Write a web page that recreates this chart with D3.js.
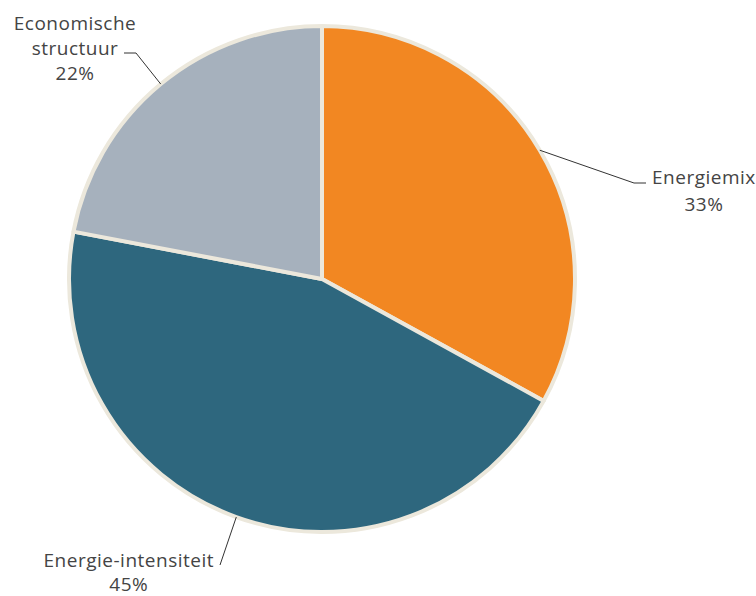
<!DOCTYPE html>
<html>
<head>
<meta charset="utf-8">
<script src="https://cdn.jsdelivr.net/npm/d3@7"></script>
<style>
  html, body { margin: 0; padding: 0; background: #fff; }
  svg { display: block; }
</style>
</head>
<body>
<div id="chart"></div>
<script>
// data
const categories = ['Energiemix', 'Energie-intensiteit', 'Economische structuur'];
const values = [33, 45, 22];
const labelLines = [['Energiemix'], ['Energie-intensiteit'], ['Economische', 'structuur']];
const colors = ['#f28722', '#2e677e', '#a6b1bd'];

const W = 756, H = 596;
const cx = 322, cy = 279, R = 253;

const svg = d3.select('#chart').append('svg')
  .attr('width', W).attr('height', H)
  .attr('viewBox', `0 0 ${W} ${H}`);

const g = svg.append('g').attr('transform', `translate(${cx},${cy})`);

const pie = d3.pie().value(d => d.value).sort(null);
const arc = d3.arc().innerRadius(0).outerRadius(R);
const table = categories.map((c, i) => ({ name: c, value: values[i], lines: labelLines[i], color: colors[i] }));
const arcs = pie(table);

g.selectAll('path.slice')
  .data(arcs)
  .join('path')
  .attr('class', 'slice')
  .attr('d', arc)
  .attr('fill', d => d.data.color)
  .attr('stroke', '#ece8dc')
  .attr('stroke-width', 4)
  .attr('stroke-linejoin', 'round');

// label layout: leader elbow/end + text position, relative to center
const layout = {
  'Energiemix': { elbow: [312, -96], end: [324, -96], anchor: 'start', tx: 330, ty: -95, gap: 27, align: 'left' },
  'Energie-intensiteit': { elbow: [-102, 286], end: [-102, 286], anchor: 'end', tx: -108, ty: 288, gap: 24, align: 'right' },
  'Economische structuur': { elbow: [-186, -226], end: [-198, -226], anchor: 'middle', tx: -247, ty: -249, gap: 25, align: 'center' }
};

const fontFamily = '"Open Sans", "Liberation Sans", sans-serif';

arcs.forEach(d => {
  const L = layout[d.data.name];
  const a = (d.startAngle + d.endAngle) / 2;
  const p0 = [Math.sin(a) * R, -Math.cos(a) * R];
  g.append('polyline')
    .attr('points', [p0, L.elbow, L.end].map(p => p.join(',')).join(' '))
    .attr('fill', 'none')
    .attr('stroke', '#333')
    .attr('stroke-width', 1);

  const lines = d.data.lines.concat([d.data.value + '%']);
  const t = g.append('text')
    .attr('font-family', fontFamily)
    .attr('font-size', 19)
    .attr('letter-spacing', 0.5)
    .attr('fill', '#444');

  if (L.align === 'center') {
    lines.forEach((ln, i) => {
      t.append('tspan').attr('x', L.tx).attr('y', L.ty + i * L.gap)
        .attr('text-anchor', 'middle').text(ln);
    });
  } else {
    // first line anchored to the leader, percentage centred under it
    t.append('tspan').attr('x', L.tx).attr('y', L.ty)
      .attr('text-anchor', L.anchor).text(lines[0]);
    t.append('tspan').attr('id', 'pct-' + d.index).attr('y', L.ty + L.gap)
      .attr('text-anchor', 'middle').text(lines[1]);
    const bb = t.select('tspan').node().getComputedTextLength();
    const mid = L.anchor === 'start' ? L.tx + bb / 2 : L.tx - bb / 2;
    t.select('#pct-' + d.index).attr('x', mid);
  }
});
</script>
</body>
</html>
